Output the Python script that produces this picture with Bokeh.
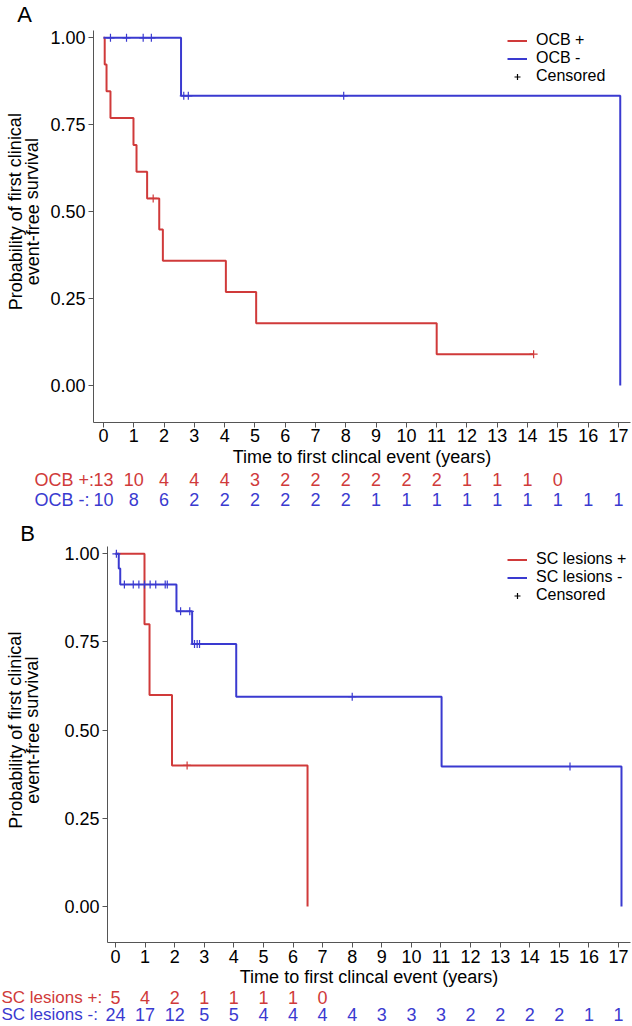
from bokeh.plotting import figure
from bokeh.models import (Range1d, FixedTicker, NumeralTickFormatter, Label, LabelSet,
                          ColumnDataSource, Legend, LegendItem, LinearAxis)
from bokeh.embed import file_html
from bokeh.resources import INLINE
from bokeh.core.properties import value

RED = "#D03A3A"
BLUE = "#3A3AD0"
FONT = "Liberation Sans"
AXIS_COLOR = "#555555"
W, H = 632, 1026
NAN = float("nan")

x_ticks = list(range(18))
y_ticks = [0.0, 0.25, 0.5, 0.75, 1.0]
x_title = "Time to first clincal event (years)"
y_title_1 = "Probability of first clinical"
y_title_2 = "event-free survival"

# ---------- Panel A : OCB ----------
a_labels = ["OCB +", "OCB -"]
a_pos_time = [0, 0.04, 0.10, 0.23, 0.99, 1.09, 1.44, 1.84, 1.96, 4.04, 5.04, 11.0, 14.2]
a_pos_surv = [1.0, 0.923, 0.846, 0.769, 0.692, 0.615, 0.538, 0.449, 0.359, 0.269, 0.179, 0.090, 0.090]
a_pos_cens_time = [1.64, 14.2]
a_pos_cens_surv = [0.538, 0.090]
a_neg_time = [0, 2.56, 17.06]
a_neg_surv = [1.0, 0.833, 0.0]
a_neg_cens_time = [0.23, 0.76, 1.31, 1.58, 2.65, 2.80, 7.93]
a_neg_cens_surv = [1.0, 1.0, 1.0, 1.0, 0.833, 0.833, 0.833]
a_risk_pos = [13, 10, 4, 4, 4, 3, 2, 2, 2, 2, 2, 2, 1, 1, 1, 0]
a_risk_neg = [10, 8, 6, 2, 2, 2, 2, 2, 2, 1, 1, 1, 1, 1, 1, 1, 1, 1]

# ---------- Panel B : SC lesions ----------
b_labels = ["SC lesions +", "SC lesions -"]
b_pos_time = [0, 0.98, 1.15, 1.91, 6.49]
b_pos_surv = [1.0, 0.8, 0.6, 0.4, 0.0]
b_pos_cens_time = [2.42]
b_pos_cens_surv = [0.4]
b_neg_time = [0, 0.11, 0.16, 2.06, 2.59, 4.08, 11.02, 17.1]
b_neg_surv = [1.0, 0.958, 0.913, 0.837, 0.744, 0.595, 0.397, 0.0]
b_neg_cens_time = [0.03, 0.30, 0.60, 0.79, 0.98, 1.17, 1.36, 1.68, 1.75,
                   2.20, 2.51, 2.67, 2.76, 2.84, 8.0, 15.36]
b_neg_cens_surv = [1.0, 0.913, 0.913, 0.913, 0.913, 0.913, 0.913, 0.913, 0.913,
                   0.837, 0.837, 0.744, 0.744, 0.744, 0.595, 0.397]
b_risk_pos = [5, 4, 2, 1, 1, 1, 1, 0]
b_risk_neg = [24, 17, 12, 5, 5, 4, 4, 4, 4, 3, 3, 3, 2, 2, 2, 2, 1, 1]

# ---------- layout geometry (pixel anchors of each panel) ----------
geoA = dict(x0=103, xs=30.29, y0=385, ys=347.7, xmin=-0.33, ymin=-0.105,
            letter=(24, 14), ylab=(15, 32), risk=(479, 499), risk_lab_left=34,
            risk_lab_size="18px", legend_mid=58)
geoB = dict(x0=115, xs=29.59, y0=906, ys=352.7, xmin=-0.27, ymin=-0.103,
            letter=(27, 533), ylab=(15, 32), risk=(997, 1014), risk_lab_left=1,
            risk_lab_size="17px", legend_mid=577)


def rng_x(g):
    return Range1d((0 - g["x0"]) / g["xs"], (W - g["x0"]) / g["xs"])


def rng_y(g):
    return Range1d((g["y0"] - H) / g["ys"], g["y0"] / g["ys"])


def dx(g, px):
    return (px - g["x0"]) / g["xs"]


def dy(g, py):
    return (g["y0"] - py) / g["ys"]


p = figure(width=W, height=H, output_backend="svg", toolbar_location=None,
           x_axis_type=None, y_axis_type=None, min_border=0,
           x_range=rng_x(geoA), y_range=rng_y(geoA),
           background_fill_color="white", border_fill_color="white")
p.extra_x_ranges = {"bx": rng_x(geoB)}
p.extra_y_ranges = {"by": rng_y(geoB)}
p.outline_line_color = None


def style_axis(ax):
    ax.axis_line_color = AXIS_COLOR
    ax.major_tick_line_color = AXIS_COLOR
    ax.minor_tick_line_color = None
    ax.major_tick_out = 5
    ax.major_tick_in = 0
    ax.major_label_text_font = FONT
    ax.major_label_text_font_size = "18px"
    ax.major_label_text_color = "black"


def make_panel(letter, labels, pos, neg, risk_pos, risk_neg, g, xr, yr):
    rn = dict(x_range_name=xr, y_range_name=yr)
    xax = LinearAxis(fixed_location=g["ymin"], bounds=(g["xmin"], 17.4),
                     ticker=FixedTicker(ticks=x_ticks), axis_label=x_title, **rn)
    style_axis(xax)
    xax.major_label_standoff = 2
    xax.axis_label_text_font = FONT
    xax.axis_label_text_font_size = "18px"
    xax.axis_label_text_font_style = "normal"
    xax.axis_label_text_color = "black"
    xax.axis_label_standoff = 1
    p.add_layout(xax, "below")

    yax = LinearAxis(fixed_location=g["xmin"], bounds=(g["ymin"], 1.02),
                     ticker=FixedTicker(ticks=y_ticks),
                     formatter=NumeralTickFormatter(format="0.00"), **rn)
    style_axis(yax)
    yax.major_label_standoff = 3
    p.add_layout(yax, "left")

    r_pos = p.step(pos[0], pos[1], mode="after", line_width=2, line_color=RED, **rn)
    r_neg = p.step(neg[0], neg[1], mode="after", line_width=2, line_color=BLUE, **rn)
    p.scatter(pos[2], pos[3], marker="cross", size=8, line_width=1.2, color=RED, **rn)
    p.scatter(neg[2], neg[3], marker="cross", size=8, line_width=1.2, color=BLUE, **rn)
    r_cens = p.scatter([NAN], [NAN], marker="cross", size=7, line_width=1.2, color="black", **rn)

    legend = Legend(items=[LegendItem(label=labels[0], renderers=[r_pos]),
                           LegendItem(label=labels[1], renderers=[r_neg]),
                           LegendItem(label="Censored", renderers=[r_cens])],
                    location=(507, H - (g["legend_mid"] + 27)), padding=0, margin=0, spacing=0,
                    glyph_width=20, glyph_height=15, label_height=15, label_standoff=9,
                    label_text_font=FONT, label_text_font_size="16px", label_text_color="black",
                    background_fill_alpha=0, border_line_color=None)
    p.add_layout(legend)

    p.add_layout(Label(x=dx(g, g["letter"][0]), y=dy(g, g["letter"][1]), text=letter,
                       text_font=FONT, text_font_size="22px", text_color="black",
                       text_align="center", text_baseline="middle", **rn))
    for px, t in zip(g["ylab"], (y_title_1, y_title_2)):
        p.add_layout(Label(x=dx(g, px), y=0.5, text=t, angle=1.5708,
                           text_font=FONT, text_font_size="18px", text_color="black",
                           text_align="center", text_baseline="middle", **rn))

    for risk, lab, col, py in ((risk_pos, labels[0], RED, g["risk"][0]),
                               (risk_neg, labels[1], BLUE, g["risk"][1])):
        yy = dy(g, py)
        src = ColumnDataSource(dict(x=x_ticks[:len(risk)], y=[yy] * len(risk),
                                    t=[str(v) for v in risk]))
        p.add_layout(LabelSet(x="x", y="y", text="t", source=src, text_color=col,
                              text_font=value(FONT), text_font_size="18px",
                              text_align="center", text_baseline="middle", **rn))
        p.add_layout(Label(x=dx(g, g["risk_lab_left"]), y=yy, text=lab + ":", text_color=col,
                           text_font=FONT, text_font_size=g["risk_lab_size"],
                           text_align="left", text_baseline="middle", **rn))


make_panel("A", a_labels,
           (a_pos_time, a_pos_surv, a_pos_cens_time, a_pos_cens_surv),
           (a_neg_time, a_neg_surv, a_neg_cens_time, a_neg_cens_surv),
           a_risk_pos, a_risk_neg, geoA, "default", "default")
make_panel("B", b_labels,
           (b_pos_time, b_pos_surv, b_pos_cens_time, b_pos_cens_surv),
           (b_neg_time, b_neg_surv, b_neg_cens_time, b_neg_cens_surv),
           b_risk_pos, b_risk_neg, geoB, "bx", "by")

open("out.html", "w").write(file_html(p, INLINE))
